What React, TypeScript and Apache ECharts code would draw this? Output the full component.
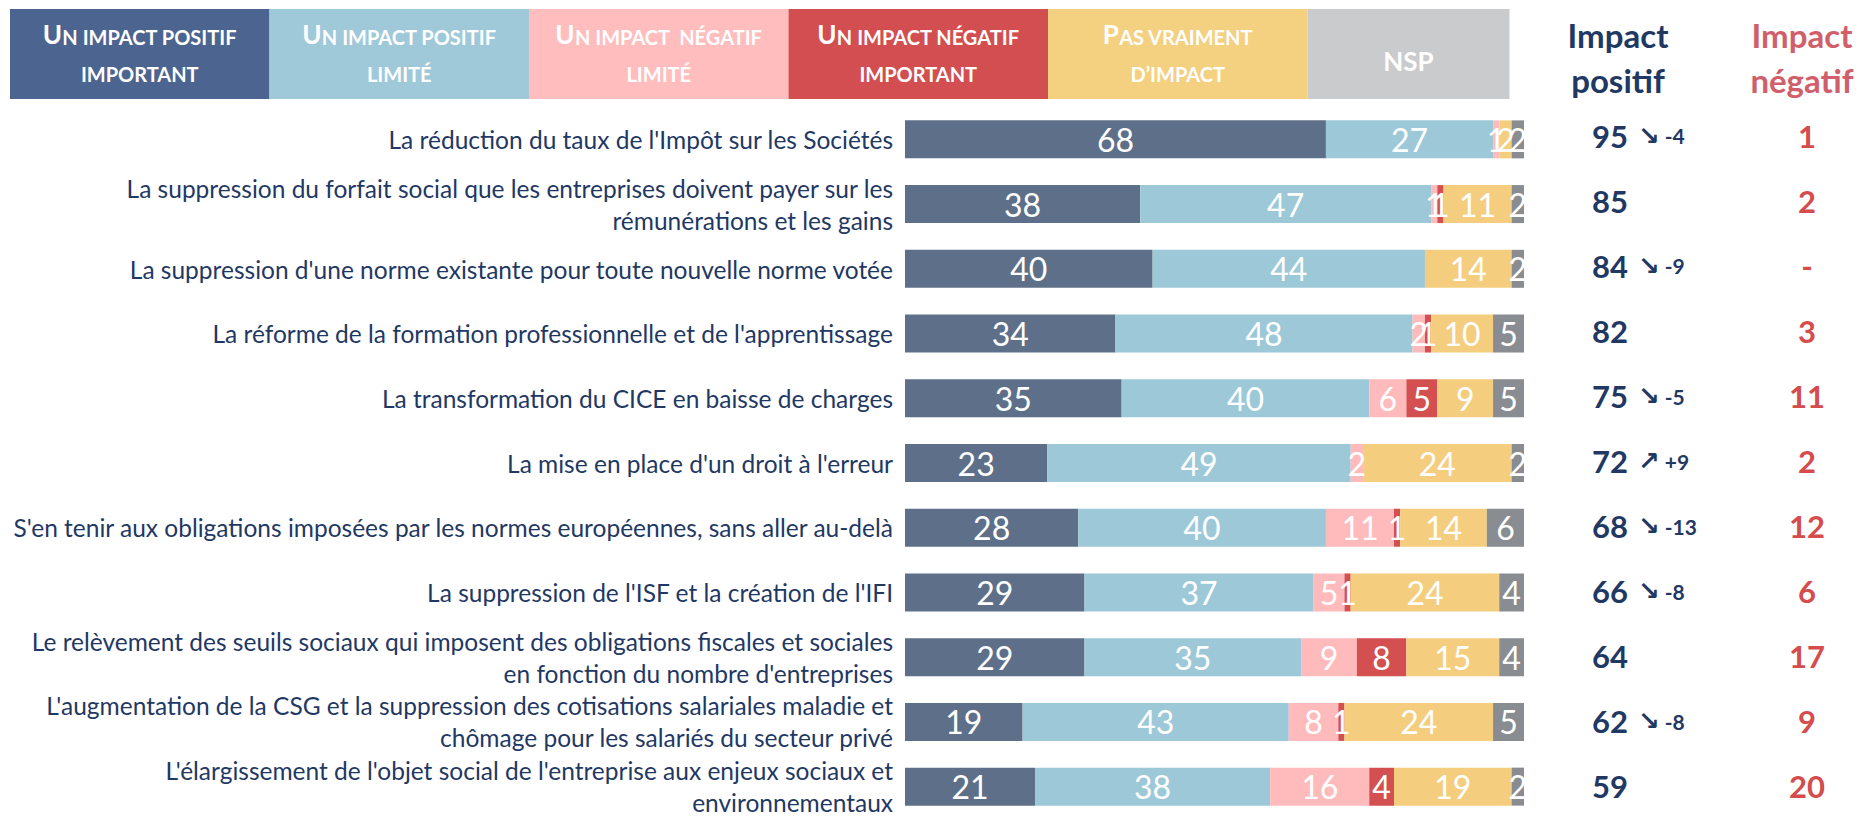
import React, { useEffect, useRef } from "react";
import * as echarts from "echarts";

const categories = [
  "La réduction du taux de l'Impôt sur les Sociétés",
  "La suppression du forfait social que les entreprises doivent payer sur les\nrémunérations et les gains",
  "La suppression d'une norme existante pour toute nouvelle norme votée",
  "La réforme de la formation professionnelle et de l'apprentissage",
  "La transformation du CICE en baisse de charges",
  "La mise en place d'un droit à l'erreur",
  "S'en tenir aux obligations imposées par les normes européennes, sans aller au-delà",
  "La suppression de l'ISF et la création de l'IFI",
  "Le relèvement des seuils sociaux qui imposent des obligations fiscales et sociales\nen fonction du nombre d'entreprises",
  "L'augmentation de la CSG et la suppression des cotisations salariales maladie et\nchômage pour les salariés du secteur privé",
  "L'élargissement de l'objet social de l'entreprise aux enjeux sociaux et\nenvironnementaux",
];

const seriesNames = [
  "Un impact positif\nimportant",
  "Un impact positif\nlimité",
  "Un impact  négatif\nlimité",
  "Un impact négatif\nimportant",
  "Pas vraiment\nd’impact",
  "NSP",
];

const positifImportant = [68, 38, 40, 34, 35, 23, 28, 29, 29, 19, 21];
const positifLimite = [27, 47, 44, 48, 40, 49, 40, 37, 35, 43, 38];
const negatifLimite = [1, 1, 0, 2, 6, 2, 11, 5, 9, 8, 16];
const negatifImportant = [0, 1, 0, 1, 5, 0, 1, 1, 8, 1, 4];
const pasVraiment = [2, 11, 14, 10, 9, 24, 14, 24, 15, 24, 19];
const nsp = [2, 2, 2, 5, 5, 2, 6, 4, 4, 5, 2];

const evolution = [-4, null, -9, null, -5, 9, -13, -8, null, -8, null];

const seriesValues = [positifImportant, positifLimite, negatifLimite, negatifImportant, pasVraiment, nsp];

const BAR_COLORS = ["#5E7089", "#9DC8D8", "#FFBBBC", "#D44F50", "#F4CE7E", "#898C90"];
const LEGEND_COLORS = ["#4C6490", "#9FC8D9", "#FFBDBE", "#D34E50", "#F4D081", "#CACBCD"];
const NAVY = "#1F3864";
const RED = "#D44C4C";
const FONT = "Lato, 'DejaVu Sans', sans-serif";

function smallCaps(text: string): string {
  return text
    .split("\n")
    .map((line) => {
      let out = "";
      let cur = "";
      let curType = "";
      const flush = () => {
        if (cur) out += `{${curType}|${cur}}`;
        cur = "";
      };
      for (const ch of line) {
        const isUpper = ch !== ch.toLowerCase() && ch === ch.toUpperCase();
        const t = isUpper ? "B" : "S";
        if (t !== curType) {
          flush();
          curType = t;
        }
        cur += ch.toUpperCase();
      }
      flush();
      return out;
    })
    .join("\n");
}

export default function App() {
  const ref = useRef<HTMLDivElement>(null);

  useEffect(() => {
    if (!ref.current) return;
    const chart = echarts.init(ref.current, undefined, { renderer: "svg" });

    const posTotals = positifImportant.map((v, i) => v + positifLimite[i]);
    const negTotals = negatifLimite.map((v, i) => v + negatifImportant[i]);

    const legendX0 = 10;
    const legendW = 259.5;
    const legendWidths = [legendW, legendW, legendW, legendW, legendW, 202];
    const graphic: any[] = [];
    let lx = legendX0;
    seriesNames.forEach((name, k) => {
      const w = legendWidths[k];
      const twoLines = name.indexOf("\n") >= 0;
      graphic.push({
        type: "rect",
        shape: { x: lx, y: 9, width: w, height: 90 },
        style: { fill: LEGEND_COLORS[k] },
        silent: true,
      });
      graphic.push({
        type: "text",
        x: lx + w / 2,
        y: twoLines ? 45 : 53,
        style: {
          text: smallCaps(name),
          align: "center",
          verticalAlign: "middle",
          textAlign: "center",
          textVerticalAlign: "middle",
          fill: "#ffffff",
          rich: {
            B: { fontSize: 26, fontWeight: "bold", fontFamily: FONT, fill: "#fff", color: "#fff", lineHeight: 41, verticalAlign: "bottom" },
            S: { fontSize: 20, fontWeight: "bold", fontFamily: FONT, fill: "#fff", color: "#fff", lineHeight: 37, verticalAlign: "bottom" },
          },
        },
        silent: true,
      });
      lx += w;
    });

    const header = (text: string, x: number, color: string) => ({
      type: "text",
      x,
      y: 57,
      style: {
        text,
        align: "center",
        verticalAlign: "middle",
        textAlign: "center",
        textVerticalAlign: "middle",
        fill: color,
        fontSize: 33,
        fontWeight: "bold",
        fontFamily: FONT,
        lineHeight: 45,
      },
      silent: true,
    });
    graphic.push(header("Impact\npositif", 1618, NAVY));
    graphic.push(header("Impact\nnégatif", 1802, "#D05F6B"));

    const hiddenAxis = {
      axisLine: { show: false },
      axisTick: { show: false },
      splitLine: { show: false },
    };

    const option: any = {
      animation: false,
      textStyle: { fontFamily: FONT },
      graphic,
      grid: [
        { left: 905, width: 619, top: 107, height: 726, containLabel: false },
        { left: 905, width: 619, top: 107.5, height: 715, containLabel: false },
        { left: 905, width: 619, top: 103.3, height: 736, containLabel: false },
      ],
      xAxis: [
        { type: "value", gridIndex: 0, min: 0, max: 100, show: false },
        { type: "value", gridIndex: 1, min: 0, max: 100, show: false },
        { type: "value", gridIndex: 2, min: 0, max: 100, show: false },
      ],
      yAxis: [
        {
          type: "category",
          gridIndex: 0,
          data: categories,
          inverse: true,
          ...hiddenAxis,
          axisLabel: { show: false },
        },
        {
          type: "category",
          gridIndex: 1,
          data: categories,
          inverse: true,
          position: "left",
          ...hiddenAxis,
          axisLabel: {
            interval: 0,
            margin: 12,
            align: "right",
            fontSize: 24.5,
            lineHeight: 32,
            fontFamily: FONT,
            color: NAVY,
          },
        },
        {
          type: "category",
          gridIndex: 2,
          data: categories,
          inverse: true,
          position: "right",
          offset: 0,
          ...hiddenAxis,
          axisLabel: {
            interval: 0,
            margin: 68,
            align: "left",
            formatter: (_v: string, i: number) => {
              const d = evolution[i];
              let s = `{v|${posTotals[i]}}`;
              if (d !== null && d !== undefined) {
                const arrow = d < 0 ? "↘" : "↗";
                const sign = d < 0 ? "-" : "+";
                s += `{a|${arrow}}{d|${sign}${Math.abs(d)}}`;
              }
              return s;
            },
            rich: {
              v: { fontSize: 31, fontWeight: "bold", color: NAVY, fontFamily: FONT },
              a: { fontSize: 26, fontWeight: "bold", color: NAVY, fontFamily: "'DejaVu Sans', sans-serif", padding: [0, 0, 0, 10] },
              d: { fontSize: 21, fontWeight: "bold", color: NAVY, fontFamily: FONT, padding: [0, 0, 0, 5] },
            },
          },
        },
        {
          type: "category",
          gridIndex: 2,
          data: categories,
          inverse: true,
          position: "right",
          offset: 0,
          ...hiddenAxis,
          axisLabel: {
            interval: 0,
            margin: 283,
            align: "center",
            fontSize: 31,
            fontWeight: "bold",
            color: RED,
            fontFamily: FONT,
            formatter: (_v: string, i: number) => (negTotals[i] > 0 ? String(negTotals[i]) : "-"),
          },
        },
      ],
      series: seriesValues.map((vals, k) => ({
        type: "bar",
        name: seriesNames[k].replace("\n", " "),
        stack: "total",
        xAxisIndex: 0,
        yAxisIndex: 0,
        barWidth: 38,
        data: vals,
        itemStyle: { color: BAR_COLORS[k] },
        label: {
          show: true,
          position: "inside",
          color: "#ffffff",
          fontSize: 32,
          fontFamily: FONT,
          textBorderWidth: 0,
          formatter: (p: any) => (p.value > 0 ? String(p.value) : ""),
        },
      })),
    };

    chart.setOption(option);
    return () => chart.dispose();
  }, []);

  return (
    <div
      ref={ref}
      style={{ position: "fixed", left: 0, top: 0, width: 1866, height: 819, background: "#fff" }}
    />
  );
}
